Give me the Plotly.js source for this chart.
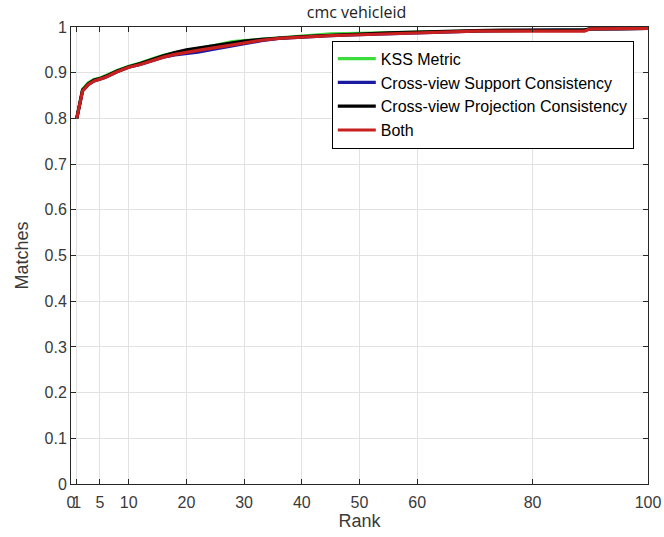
<!DOCTYPE html>
<html>
<head>
<meta charset="utf-8">
<script src="https://cdn.plot.ly/plotly-3.0.1.min.js"></script>
<style>html,body{margin:0;padding:0;background:#fff;}#chart{width:664px;height:537px;}</style>
</head>
<body>
<div id="chart"></div>
<script>
const ranks = [1,2,3,4,5,6,8,10,12,14,16,18,20,22,25,28,30,33,36,40,45,50,55,60,65,70,75,80,85,89,90,95,100];
const kssMetric = [0.800,0.864,0.878,0.885,0.888,0.894,0.905,0.914,0.921,0.930,0.938,0.944,0.948,0.953,0.960,0.968,0.970,0.973,0.976,0.980,0.985,0.986,0.988,0.989,0.990,0.991,0.992,0.993,0.994,0.994,0.996,0.996,0.997];
const supportConsistency = [0.800,0.860,0.874,0.882,0.886,0.890,0.902,0.912,0.918,0.926,0.934,0.939,0.942,0.945,0.952,0.959,0.964,0.970,0.975,0.978,0.981,0.983,0.985,0.988,0.990,0.991,0.992,0.993,0.993,0.993,0.996,0.996,0.997];
const projectionConsistency = [0.800,0.862,0.876,0.884,0.887,0.892,0.904,0.913,0.920,0.929,0.937,0.944,0.950,0.954,0.960,0.965,0.969,0.973,0.976,0.979,0.982,0.985,0.987,0.989,0.991,0.992,0.993,0.993,0.994,0.994,0.996,0.996,0.997];
const both = [0.800,0.860,0.874,0.882,0.886,0.890,0.902,0.912,0.918,0.926,0.934,0.940,0.945,0.949,0.955,0.961,0.966,0.971,0.975,0.978,0.981,0.983,0.985,0.988,0.990,0.991,0.991,0.991,0.991,0.991,0.996,0.996,0.997];
const seriesNames = ['KSS Metric','Cross-view Support Consistency','Cross-view Projection Consistency','Both'];
const seriesColors = ['#3ddc3d','#1a1aa0','#000000','#c8201e'];
const xTicks = [0,1,5,10,20,30,40,50,60,80,100];
const yTicks = [0,0.1,0.2,0.3,0.4,0.5,0.6,0.7,0.8,0.9,1];
const yTickText = ['0','0.1','0.2','0.3','0.4','0.5','0.6','0.7','0.8','0.9','1'];

const allSeries = [kssMetric, supportConsistency, projectionConsistency, both];
const traces = allSeries.map((vals, i) => ({
  x: ranks, y: vals, type: 'scatter', mode: 'lines', name: seriesNames[i],
  line: {color: seriesColors[i], width: 3.2}
}));

const tickFont = {family: 'Liberation Sans, Arial, sans-serif', size: 16, color: '#3a3a3a'};
const axisCommon = {
  showline: true, linecolor: '#262626', linewidth: 1, mirror: 'ticks',
  ticks: 'inside', ticklen: 5, tickcolor: '#262626',
  showgrid: true, gridcolor: '#e2e2e2', gridwidth: 1, zeroline: false,
  tickfont: tickFont, tickangle: 0, automargin: false
};
const layout = {
  width: 664, height: 537,
  margin: {l: 71, r: 16, t: 27, b: 53},
  paper_bgcolor: '#fff', plot_bgcolor: '#fff',
  title: {text: 'cmc vehicleid', font: {family: 'Open Sans, sans-serif', size: 16, color: '#222'}, x: 0.537, xanchor: 'center', y: 0.977, yanchor: 'middle', yref: 'container'},
  xaxis: Object.assign({}, axisCommon, {
    range: [0, 100], tickmode: 'array', tickvals: xTicks, ticktext: xTicks.map(String),
    ticklabelstandoff: 4,
    title: {text: 'Rank', font: {family: 'Liberation Sans, Arial, sans-serif', size: 18, color: '#3a3a3a'}, standoff: 4}
  }),
  yaxis: Object.assign({}, axisCommon, {
    range: [0, 1], tickmode: 'array', tickvals: yTicks, ticktext: yTickText,
    title: {text: 'Matches', font: {family: 'Liberation Sans, Arial, sans-serif', size: 18, color: '#3a3a3a'}, standoff: 11}
  }),
  legend: {
    x: 0.452, y: 0.97, xanchor: 'left', yanchor: 'top',
    bgcolor: '#fff', bordercolor: '#000', borderwidth: 1,
    font: {family: 'Liberation Sans, Arial, sans-serif', size: 16, color: '#000'},
    tracegroupgap: 0, itemwidth: 38
  },
  showlegend: true
};
Plotly.newPlot('chart', traces, layout, {displayModeBar: false, staticPlot: true});
</script>
</body>
</html>
